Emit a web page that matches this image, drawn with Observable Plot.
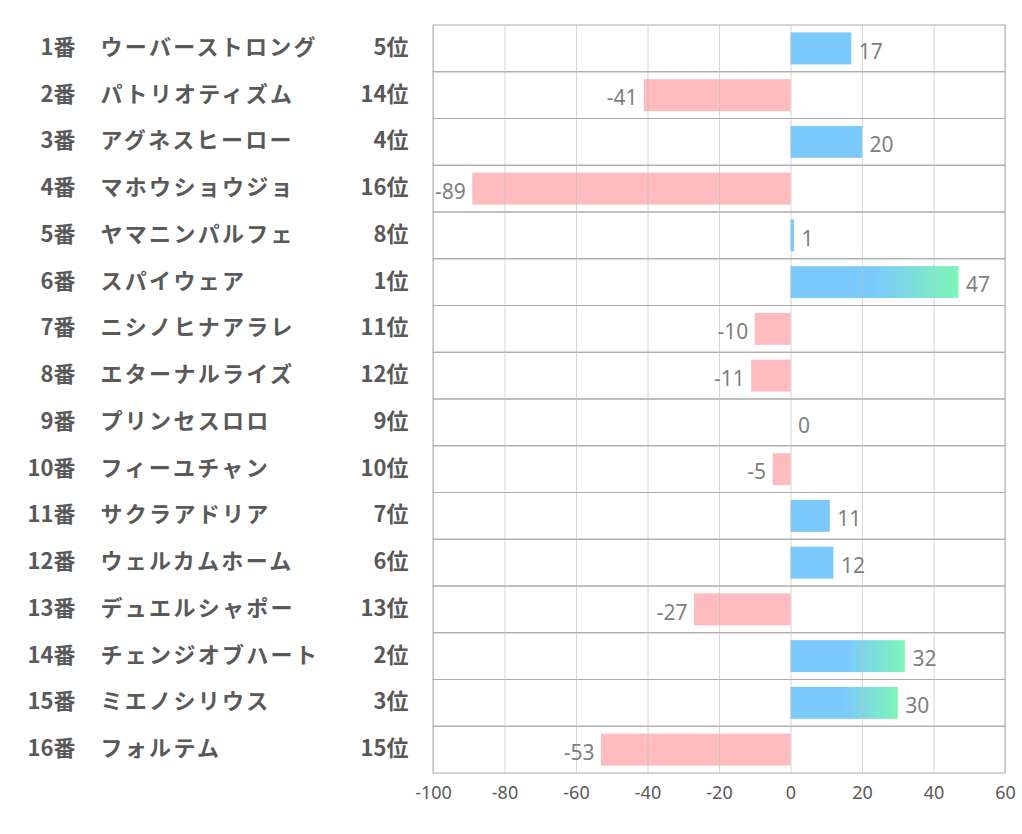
<!DOCTYPE html>
<html>
<head>
<meta charset="utf-8">
<script src="https://cdn.jsdelivr.net/npm/d3@7"></script>
<script src="https://cdn.jsdelivr.net/npm/@observablehq/plot@0.6"></script>
<style>
  html, body { margin: 0; padding: 0; background: #ffffff; }
  #chart { width: 1022px; height: 834px; }
</style>
</head>
<body>
<div id="chart"></div>
<script>
const horseNumbers = ["1番","2番","3番","4番","5番","6番","7番","8番","9番","10番","11番","12番","13番","14番","15番","16番"];
const horseNames = ["ウーバーストロング","パトリオティズム","アグネスヒーロー","マホウショウジョ","ヤマニンパルフェ","スパイウェア","ニシノヒナアラレ","エターナルライズ","プリンセスロロ","フィーユチャン","サクラアドリア","ウェルカムホーム","デュエルシャポー","チェンジオブハート","ミエノシリウス","フォルテム"];
const ranks = ["5位","14位","4位","16位","8位","1位","11位","12位","9位","10位","7位","6位","13位","2位","3位","15位"];
const values = [17, -41, 20, -89, 1, 47, -10, -11, 0, -5, 11, 12, -27, 32, 30, -53];
const xTicks = [-100, -80, -60, -40, -20, 0, 20, 40, 60];

const rows = horseNumbers.map((n, i) => ({
  num: n, name: horseNames[i], rank: ranks[i], rankNum: parseInt(ranks[i]), value: values[i]
}));

const BLUE = "#7ccafc", PINK = "#ffbcbe", GREEN = "#7df6b6";
const labelFont = "'Noto Sans CJK JP', 'Noto Sans', sans-serif";
const numFont = "'Noto Sans', 'Open Sans', sans-serif";

const defs = () => {
  const d = d3.create("svg:defs");
  const g = d.append("linearGradient").attr("id", "topgrad")
    .attr("x1", "0").attr("x2", "1").attr("y1", "0").attr("y2", "0");
  g.append("stop").attr("offset", "0.5").attr("stop-color", BLUE);
  g.append("stop").attr("offset", "1").attr("stop-color", GREEN);
  return d.node();
};

const barInset = 7.4;

const chart = Plot.plot({
  width: 1022,
  height: 834,
  marginTop: 25,
  marginBottom: 61,
  marginLeft: 433,
  marginRight: 17,
  style: { background: "#ffffff", fontFamily: numFont },
  x: { domain: [-100, 60], axis: null },
  y: { domain: horseNumbers, padding: 0, round: false, axis: null },
  marks: [
    defs,
    // row bands with separators
    Plot.barX(rows, { x1: -100, x2: 60, y: "num", fill: "none", stroke: "#ababab", strokeWidth: 1 }),
    // bars
    Plot.barX(rows.filter(d => d.value < 0), { x: "value", y: "num", fill: PINK, insetTop: barInset, insetBottom: barInset }),
    Plot.barX(rows.filter(d => d.value > 0 && d.rankNum > 3), { x: "value", y: "num", fill: BLUE, insetTop: barInset, insetBottom: barInset }),
    Plot.barX(rows.filter(d => d.value > 0 && d.rankNum <= 3), { x: "value", y: "num", fill: "url(#topgrad)", insetTop: barInset, insetBottom: barInset }),
    // vertical gridlines
    Plot.ruleX(xTicks, { stroke: "#bdbdbd", strokeOpacity: 0.6 }),
    // value labels
    Plot.text(rows.filter(d => d.value >= 0), { x: "value", y: "num", text: d => String(d.value), textAnchor: "start", dx: 7, dy: 3, fill: "#7f7f7f", fontSize: 21, fontFamily: numFont }),
    Plot.text(rows.filter(d => d.value < 0), { x: "value", y: "num", text: d => String(d.value), textAnchor: "end", dx: -7, dy: 3, fill: "#7f7f7f", fontSize: 21, fontFamily: numFont }),
    // left labels
    Plot.text(rows, { y: "num", text: "num", frameAnchor: "left", dx: -358, dy: -1, textAnchor: "end", fill: "#595959", fontSize: 22, fontWeight: "bold", fontFamily: labelFont }),
    Plot.text(rows, { y: "num", text: "name", frameAnchor: "left", dx: -333, dy: -1, textAnchor: "start", fill: "#595959", fontSize: 22, fontWeight: "bold", fontFamily: labelFont }),
    Plot.text(rows, { y: "num", text: "rank", frameAnchor: "left", dx: -25, dy: -1, textAnchor: "end", fill: "#595959", fontSize: 22, fontWeight: "bold", fontFamily: labelFont }),
    // x tick labels
    Plot.text(xTicks, { x: d => d, text: d => String(d), frameAnchor: "bottom", dy: 25, fill: "#595959", fontSize: 18, fontFamily: numFont })
  ]
});

const svg = d3.select(chart);
svg.selectAll("text").filter(function () { return horseNames.includes(this.textContent); })
  .attr("letter-spacing", "2.3px");
document.getElementById("chart").appendChild(chart);
</script>
</body>
</html>
